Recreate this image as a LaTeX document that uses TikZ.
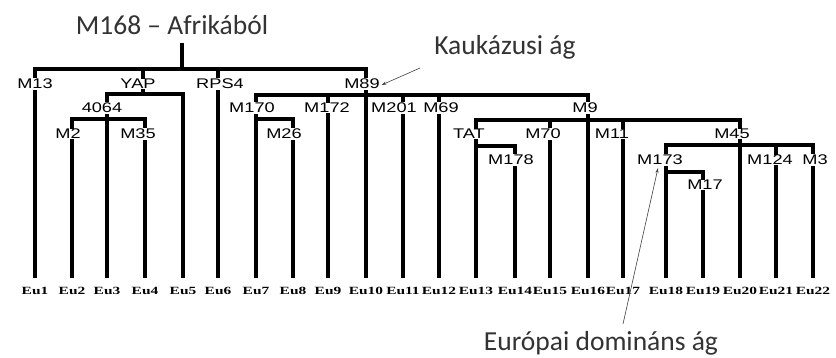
\documentclass[tikz,border=0pt]{standalone}
\usepackage{fontspec}
\setmainfont{Liberation Sans}
\newfontfamily\calib{Carlito}
\newfontfamily\eufont{Liberation Serif}
\usetikzlibrary{arrows.meta}
\newcommand\widelab[1]{\scalebox{1.3}[1]{#1}}
\newcommand\wideeu[1]{\scalebox{1.4}[1]{#1}}
\begin{document}
\begin{tikzpicture}[x=1pt,y=-1pt,
  br/.style={line width=4.3pt,line cap=rect},
  ln/.style={line width=4.3pt},
  lab/.style={fill=white,inner sep=0.6pt,font=\fontsize{14}{14}\selectfont},
  eu/.style={font=\eufont\bfseries\fontsize{11}{11}\selectfont,inner sep=0pt},
  ttl/.style={font=\calib\fontsize{27.5}{27.5}\selectfont,text=black!80,inner sep=0pt},
  ptr/.style={line width=0.6pt,black!75,-{Stealth[length=5pt,width=3pt]}}]
\useasboundingbox (0,0) rectangle (836,358);
\fill[white] (0,0) rectangle (836,358);

% leaves
\foreach \x/\y [count=\i] in {35/69,72/119,107/94,145/119,183/94,218/69,256/95,293/119,328/95,366/69,403/95,439/95,476/120,515/146,550/120,588/95,623/120,666/145,703/172,740/120,776/145,813/145} {
  \coordinate (t\i) at (\x,\y);
  \coordinate (b\i) at (\x,278);
  \node[eu] (eu\i) at (\x,290.5) {\wideeu{Eu\i}};
  \draw[ln] (t\i) -- (b\i);
}

% title and root
\node[ttl] (title) at (172,25) {M168 – Afrikából};
\coordinate (s0) at (182,43);
\coordinate (root) at (182,69);
\draw[ln] (s0) -- (root);
\draw[br] (t1) -- (t10);

% YAP
\coordinate (yap) at (143,69);
\coordinate (yapb) at (143,94);
\draw[ln] (yap) -- (yapb);
\draw[br] (t3) -- (t5);
% 4064
\draw[br] (t2) -- (t4);
% M89
\draw[br] (t7) -- (t16);
% M170
\coordinate (m170b) at (256,119);
\draw[br] (m170b) -- (t8);
% M9
\coordinate (m9l) at (476,120);
\draw[br] (m9l) -- (t20);
% TAT
\coordinate (tatb) at (476,146);
\draw[br] (tatb) -- (t14);
% M45
\coordinate (m45l) at (666,145);
\draw[br] (m45l) -- (t22);
% M173
\coordinate (m173b) at (666,172);
\draw[br] (m173b) -- (t19);

% labels
\node[lab] (m13) at (35,84) {\widelab{M13}};
\node[lab] (yapl) at (138,84) {\widelab{YAP}};
\node[lab] (rps4) at (220,84) {\widelab{RPS4}};
\node[lab] (m89) at (362,84) {\widelab{M89}};
\node[lab] (n4064) at (102,108) {\widelab{4064}};
\node[lab] (m170) at (252,108) {\widelab{M170}};
\node[lab] (m172) at (327,108) {\widelab{M172}};
\node[lab] (m201) at (394,108) {\widelab{M201}};
\node[lab] (m69) at (441,108) {\widelab{M69}};
\node[lab] (m9) at (585,108) {\widelab{M9}};
\node[lab] (m2) at (68,134) {\widelab{M2}};
\node[lab] (m35) at (138,134) {\widelab{M35}};
\node[lab] (m26) at (284,134) {\widelab{M26}};
\node[lab] (tat) at (469,134) {\widelab{TAT}};
\node[lab] (m70) at (543,134) {\widelab{M70}};
\node[lab] (m11) at (612,134) {\widelab{M11}};
\node[lab] (m45) at (732,134) {\widelab{M45}};
\node[lab] (m178) at (511,160) {\widelab{M178}};
\node[lab] (m173) at (660,160) {\widelab{M173}};
\node[lab] (m124) at (770,160) {\widelab{M124}};
\node[lab] (m3) at (815,160) {\widelab{M3}};
\node[lab] (m17) at (705,185) {\widelab{M17}};

% annotations
\node[ttl] (kauk) at (505,47) {Kaukázusi ág};
\coordinate (ka) at (420,68);
\draw[ptr] (ka) -- ([xshift=1pt,yshift=-1pt]m89.east);
\node[ttl,anchor=base] (eur) at (601,350) {Európai domináns ág};
\coordinate (ea) at (623,324);
\coordinate (eb) at (658,168);
\draw[ptr] (ea) -- (eb);
\end{tikzpicture}
\end{document}
